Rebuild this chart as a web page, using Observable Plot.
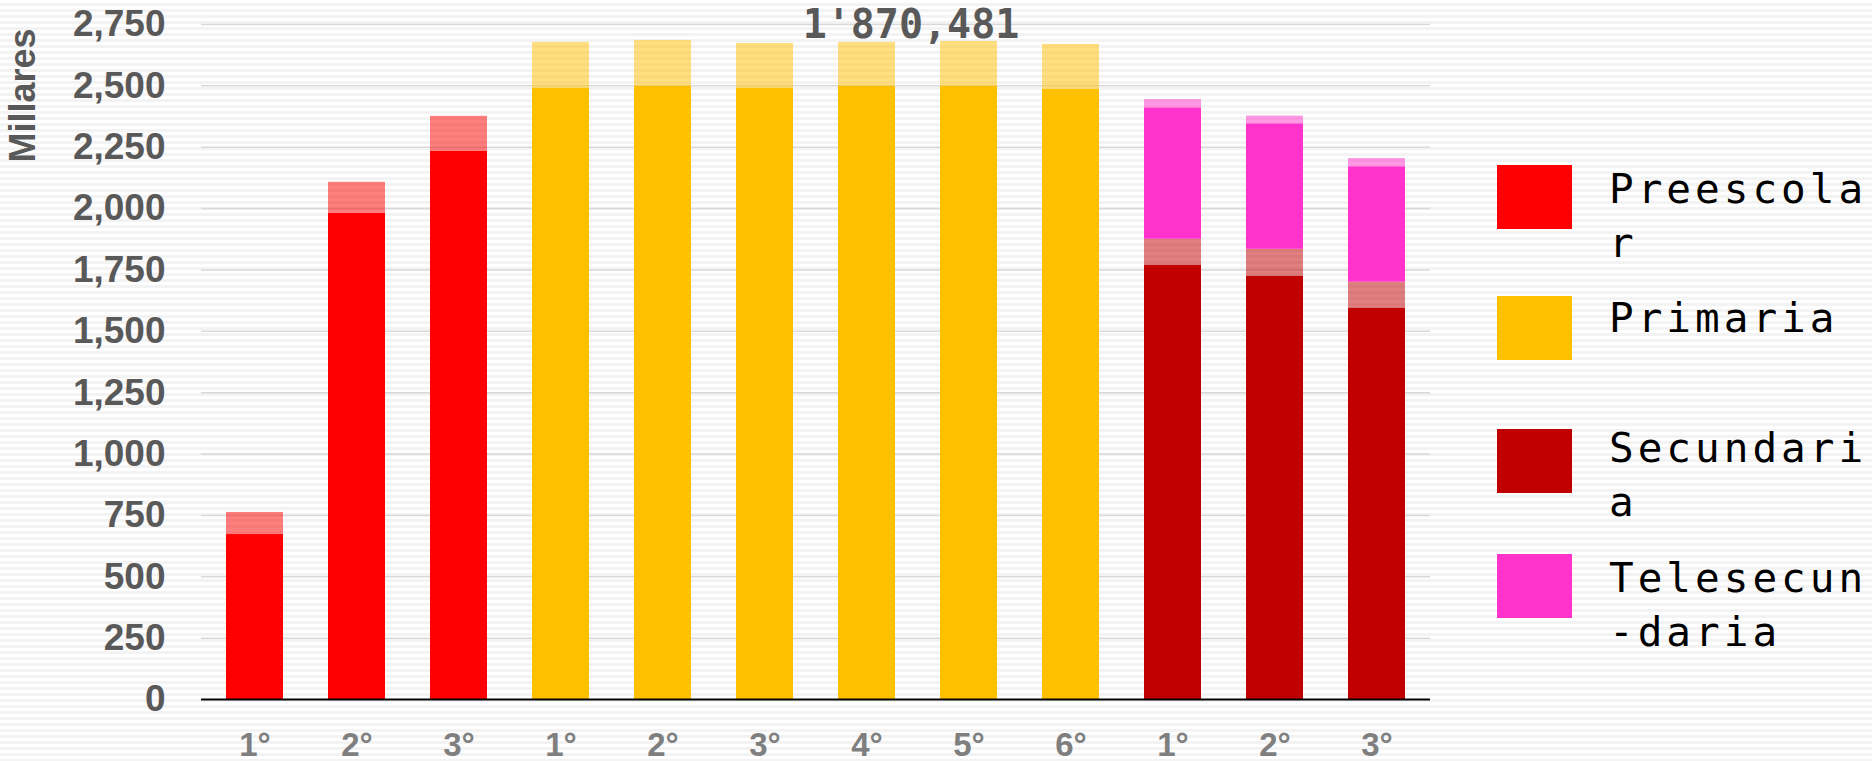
<!DOCTYPE html>
<html><head><meta charset="utf-8">
<script src="https://cdn.jsdelivr.net/npm/d3@7"></script>
<script src="https://cdn.jsdelivr.net/npm/@observablehq/plot@0.6"></script>
<style>
html,body{margin:0;padding:0;width:1872px;height:761px;overflow:hidden;}
body{position:relative;background:repeating-linear-gradient(to bottom,#ffffff 0,#ffffff 3px,#f3f3f3 3px,#f3f3f3 6px);font-family:"Liberation Sans",Arial,sans-serif;}
#chart{position:absolute;left:0;top:0;}
#legend{position:absolute;left:1497px;top:0;}
.sw{position:absolute;left:0;width:75px;height:64px;}
.lab{position:absolute;left:112px;font-family:"DejaVu Sans Mono",monospace;font-size:41px;letter-spacing:4px;line-height:54px;white-space:nowrap;color:#000;}
</style></head>
<body><div id="chart"></div><div id="legend"></div>
<script>
// ---- data ----
const keys = ["Pre1","Pre2","Pre3","Pri1","Pri2","Pri3","Pri4","Pri5","Pri6","Sec1","Sec2","Sec3"];
const tickLabels = ["1°","2°","3°","1°","2°","3°","4°","5°","6°","1°","2°","3°"];
const gradeLevel = ["Preescolar","Preescolar","Preescolar","Primaria","Primaria","Primaria","Primaria","Primaria","Primaria","Secundaria","Secundaria","Secundaria"];
const baseValues  = [672, 1980, 2233, 2491, 2498, 2491, 2498, 2498, 2486, 1769, 1724, 1594];
const extraValues = [90, 127, 143, 186, 187, 182, 179, 183, 183, 106, 110, 106];
const teleKeys = ["Sec1","Sec2","Sec3"];
const teleBase  = [535, 511, 470];
const teleExtra = [34, 32, 34];
const levels = ["Preescolar","Primaria","Secundaria","Telesecundaria"];
const levelColors = ["#ff0000","#ffc000","#c00000","#ff33cc"];
const legendLines = [["Preescola","r"],["Primaria"],["Secundari","a"],["Telesecun","-daria"]];
const yTicks = [0,250,500,750,1000,1250,1500,1750,2000,2250,2500,2750];
const totalLabel = "1'870,481";
const yTitle = "Millares";

// ---- table ----
const rows = [];
keys.forEach((k,i)=>{
  rows.push({key:k, nivel:gradeLevel[i], part:"base", value:baseValues[i]});
  rows.push({key:k, nivel:gradeLevel[i], part:"extra", value:extraValues[i]});
});
teleKeys.forEach((k,i)=>{
  rows.push({key:k, nivel:"Telesecundaria", part:"base", value:teleBase[i]});
  rows.push({key:k, nivel:"Telesecundaria", part:"extra", value:teleExtra[i]});
});

const chart = Plot.plot({
  width: 1872, height: 761,
  marginLeft: 201, marginRight: 442, marginTop: 24, marginBottom: 62,
  style: {background:"transparent", fontFamily:'"Liberation Sans", Arial, sans-serif', overflow:"visible"},
  x: {domain: keys, paddingInner: 0.44, paddingOuter: 0.22, label: null},
  y: {domain: [0, 2750], label: null},
  color: {domain: levels, range: levelColors},
  marks: [
    Plot.ruleY(yTicks.filter(d => d > 0), {stroke:"#d9d9d9", strokeWidth:1.5}),
    Plot.barY(rows, {x:"key", y:"value", fill:"nivel", fillOpacity: d => d.part === "extra" ? 0.5 : 1}),
    Plot.ruleY([0], {stroke:"#000", strokeWidth:2}),
    Plot.axisY({ticks: yTicks, tickFormat: d3.format(","), tickSize:0, tickPadding:36, fontSize:37, fontWeight:"bold", color:"#595959", label:null}),
    Plot.axisX({tickSize:0, tickPadding:33, tickFormat: d => tickLabels[keys.indexOf(d)], fontSize:33, fontWeight:"bold", color:"#7f7f7f", label:null}),
    Plot.text([totalLabel], {x: () => "Pri4", y: () => 2750, text: d => d, dx: 44, dy: 1, fontFamily:'"DejaVu Sans Mono", monospace', fontWeight:"bold", fontSize:40, fill:"#595959", textAnchor:"middle", lineAnchor:"middle", ariaLabel:"total"}),
    Plot.text([yTitle], {frameAnchor:"top-left", text: d => d, dx:-178, dy:71, rotate:-90, fontSize:36, fontWeight:"bold", fill:"#595959", textAnchor:"middle", lineAnchor:"middle"})
  ]
});
document.getElementById("chart").appendChild(chart);
d3.select(chart).selectAll('g[aria-label="total"] text').attr("letter-spacing", "6px");
d3.select(chart).selectAll('g[aria-label="y-axis tick label"] text, g[aria-label="x-axis tick label"] text').attr("font-weight","bold");

// ---- legend ----
const swTops = [165, 296, 429, 554];
const labTops = [162, 291, 421, 551];
const leg = document.getElementById("legend");
levels.forEach((lv,i)=>{
  const sw = document.createElement("div");
  sw.className = "sw"; sw.style.top = swTops[i] + "px"; sw.style.background = levelColors[i];
  leg.appendChild(sw);
  const lab = document.createElement("div");
  lab.className = "lab"; lab.style.top = labTops[i] + "px";
  lab.innerHTML = legendLines[i].join("<br>");
  leg.appendChild(lab);
});
</script>
</body></html>
